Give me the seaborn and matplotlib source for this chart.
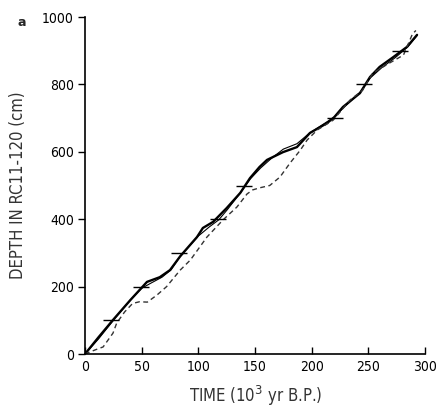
import matplotlib
matplotlib.use("Agg")
import matplotlib.pyplot as plt
import seaborn as sns
import pandas as pd

# Thick solid curve
time_thick = [0, 12, 24.7, 40, 54.7, 66, 75, 84, 98.8, 104, 113, 125, 137, 145.6, 154,
              160.6, 174.7, 187, 198.5, 213.5, 220, 227.6, 242.6, 251.5, 260, 272, 284, 293]
depth_thick = [0, 50, 101, 160, 214, 228, 249, 290, 347, 374, 392, 433, 478, 522, 555,
               576, 599, 614, 656, 685, 703, 733, 774, 822, 852, 881, 911, 947]

# Thin solid curve
time_thin = [0, 12, 25, 40, 50, 58, 68, 76, 84, 100, 110, 118, 126, 137, 146, 155,
             165, 175, 187, 198, 213, 220, 228, 243, 252, 262, 274, 285, 293]
depth_thin = [0, 45, 100, 160, 195, 210, 228, 250, 290, 350, 378, 398, 430, 478, 520, 552,
              582, 608, 624, 655, 688, 703, 730, 778, 820, 850, 880, 912, 945]

# Dashed curve
time_dash = [0, 8.8, 16, 24.7, 28, 35, 42, 48, 55, 63.5, 72, 84, 93, 107.6, 121.8, 134,
             143, 148, 154, 163, 172, 181, 190, 196, 205, 219, 234, 245, 254, 269, 281, 289, 292]
depth_dash = [0, 12, 21, 62, 92, 125, 150, 155, 154, 175, 200, 249, 279, 347, 398, 436,
              475, 487, 493, 500, 525, 567, 605, 635, 665, 694, 754, 783, 834, 864, 887, 950, 960]

# Tie points (horizontal bars)
tie_depth = [100, 200, 300, 400, 500, 700, 800, 900]
tie_time = [23, 49.5, 83, 117, 140, 220.6, 246, 278]
tie_err = 7

x_ticks = [0, 50, 100, 150, 200, 250, 300]
y_ticks = [0, 200, 400, 600, 800, 1000]

sns.set_style("ticks")
plt.rcParams["font.family"] = ["DejaVu Sans"]

fig = plt.figure(figsize=(4.37, 4.07), dpi=100)
ax = fig.add_axes([0.1945, 0.1302, 0.778, 0.828])

d1 = pd.DataFrame({"t": time_thick, "d": depth_thick})
d2 = pd.DataFrame({"t": time_thin, "d": depth_thin})
d3 = pd.DataFrame({"t": time_dash, "d": depth_dash})

sns.lineplot(data=d1, x="t", y="d", sort=False, estimator=None, color="black", lw=1.7, ax=ax)
sns.lineplot(data=d2, x="t", y="d", sort=False, estimator=None, color="black", lw=0.8, ax=ax)
sns.lineplot(data=d3, x="t", y="d", sort=False, estimator=None, color="#333333", lw=1.0,
             ax=ax, dashes=False, linestyle=(0, (3.5, 2.5)))
ax.errorbar(tie_time, tie_depth, xerr=tie_err, fmt="none", ecolor="black", elinewidth=1.0, capsize=0)

ax.set_xlim(0, 300)
ax.set_ylim(0, 1000)
ax.set_xticks(x_ticks)
ax.set_yticks(y_ticks)
ax.tick_params(axis="x", direction="in", length=5, width=1, labelsize=10, pad=4, colors="black")
ax.tick_params(axis="y", direction="out", length=5, width=1, labelsize=10, pad=3, colors="black")
for lbl in ax.get_xticklabels() + ax.get_yticklabels():
    lbl.set_fontstretch("condensed")
sns.despine(ax=ax)
for s in ["left", "bottom"]:
    ax.spines[s].set_linewidth(1.2)
    ax.spines[s].set_color("black")

ax.set_xlabel("")
ax.set_ylabel("")
fig.text(0.586, 0.026, "TIME (10$^3$ yr B.P.)", fontsize=12, fontstretch="condensed",
         color="#333333", ha="center", va="center")
fig.text(0.041, 0.545, "DEPTH IN RC11-120 (cm)", fontsize=12, fontstretch="condensed",
         color="#333333", ha="center", va="center", rotation=90)
fig.text(0.05, 0.945, "a", fontsize=9, fontweight="bold", ha="center", va="center")

fig.savefig("out.png", dpi=100)
